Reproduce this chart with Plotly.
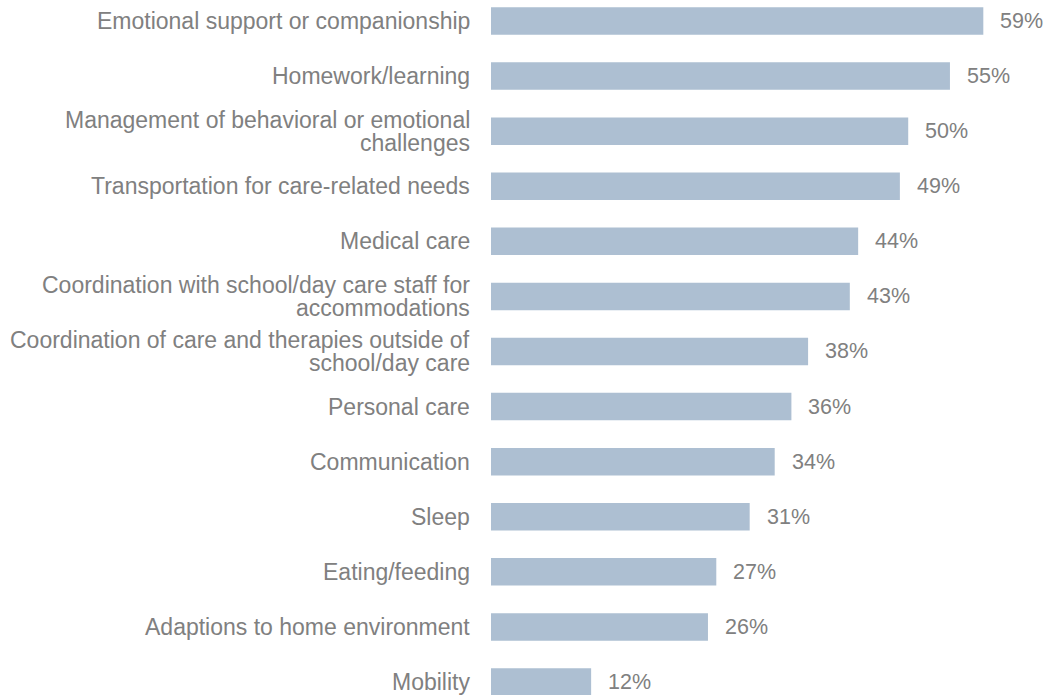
import plotly.graph_objects as go

# Categories listed bottom-to-top so the largest share sits at the top
categories = [
    "Mobility",
    "Adaptions to home environment",
    "Eating/feeding",
    "Sleep",
    "Communication",
    "Personal care",
    "Coordination of care and therapies outside of<br>school/day care",
    "Coordination with school/day care staff for<br>accommodations",
    "Medical care",
    "Transportation for care-related needs",
    "Management of behavioral or emotional<br>challenges",
    "Homework/learning",
    "Emotional support or companionship",
]
values = [12, 26, 27, 31, 34, 36, 38, 43, 44, 49, 50, 55, 59]

BAR_COLOR = "#adbfd2"
TEXT_COLOR = "#808080"
FONT = "Liberation Sans, Arial, sans-serif"
LABEL_SIZE = 23
VALUE_SIZE = 21.5
LINE_GAP = 23  # pixel distance between wrapped label lines

fig = go.Figure(
    go.Bar(
        x=values,
        y=categories,
        orientation="h",
        width=0.5,
        marker=dict(color=BAR_COLOR, line=dict(width=0)),
        hoverinfo="skip",
    )
)

for cat, v in zip(categories, values):
    # Percentage label to the right of the bar
    fig.add_annotation(
        x=v, y=cat, text=f"{v}%", showarrow=False,
        xanchor="left", xshift=15, yanchor="middle",
        font=dict(size=VALUE_SIZE, color=TEXT_COLOR, family=FONT),
    )
    # Category label, right-aligned, with tight line spacing for wrapped names
    lines = cat.split("<br>")
    n = len(lines)
    for i, line in enumerate(lines):
        fig.add_annotation(
            xref="paper", x=0, y=cat, text=line, showarrow=False,
            xanchor="right", xshift=-19, yanchor="middle",
            yshift=((n - 1) / 2 - i) * LINE_GAP,
            font=dict(size=LABEL_SIZE, color=TEXT_COLOR, family=FONT),
        )

fig.update_layout(
    width=1046, height=695,
    margin=dict(l=491, r=56, t=0, b=0),
    plot_bgcolor="white", paper_bgcolor="white",
    showlegend=False,
    font=dict(family=FONT, size=LABEL_SIZE, color=TEXT_COLOR),
    xaxis=dict(range=[0, 59.8], visible=False, fixedrange=True),
    yaxis=dict(
        type="category", range=[-0.236, 12.381],
        showgrid=False, showline=False, zeroline=False,
        ticks="", showticklabels=False,
        fixedrange=True,
    ),
)

fig.write_html("out.html")
